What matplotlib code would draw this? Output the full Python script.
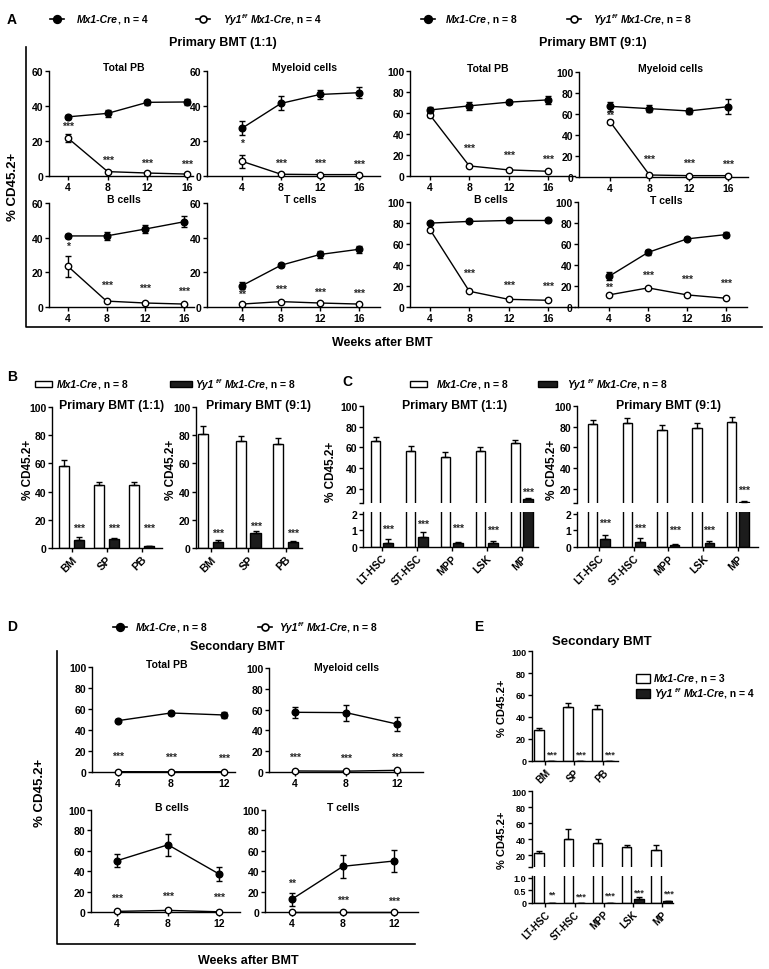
import numpy as np
import matplotlib
matplotlib.use('Agg')
import matplotlib.pyplot as plt
from matplotlib.lines import Line2D
from matplotlib.patches import Rectangle

plt.rcParams['font.family'] = ['Liberation Sans', 'DejaVu Sans']
plt.rcParams['font.weight'] = 'bold'
plt.rcParams['axes.linewidth'] = 1.0

# ===================== DATA =====================
weeks_primary = [4, 8, 12, 16]
weeks_secondary = [4, 8, 12]

# ---- Panel A, Primary BMT (1:1) ----
a1_total_ctrl = [33.8, 35.8, 42.1, 42.3]
a1_total_ctrl_err = [1.0, 2.1, 1.5, 1.7]
a1_total_ko = [21.6, 2.5, 1.7, 1.1]
a1_total_ko_err = [2.3, 0.4, 0.3, 0.3]
a1_total_sig = ['***', '***', '***', '***']

a1_mye_ctrl = [27.3, 41.5, 46.6, 47.6]
a1_mye_ctrl_err = [4.0, 4.0, 2.7, 3.0]
a1_mye_ko = [8.4, 1.0, 0.8, 0.8]
a1_mye_ko_err = [3.6, 0.3, 0.3, 0.3]
a1_mye_sig = ['*', '***', '***', '***']

a1_b_ctrl = [41.0, 41.0, 45.0, 49.2]
a1_b_ctrl_err = [1.0, 2.3, 2.3, 3.1]
a1_b_ko = [23.6, 3.4, 2.3, 1.7]
a1_b_ko_err = [6.1, 0.5, 0.4, 0.3]
a1_b_sig = ['*', '***', '***', '***']

a1_t_ctrl = [12.3, 24.1, 30.3, 33.3]
a1_t_ctrl_err = [2.1, 1.0, 1.9, 2.1]
a1_t_ko = [1.7, 3.1, 2.3, 1.7]
a1_t_ko_err = [0.4, 0.5, 0.4, 0.3]
a1_t_sig = ['**', '***', '***', '***']

# ---- Panel A, Primary BMT (9:1) ----
a9_total_ctrl = [62.9, 66.8, 70.3, 72.5]
a9_total_ctrl_err = [2.6, 3.5, 2.0, 3.9]
a9_total_ko = [58.1, 9.6, 5.8, 4.5]
a9_total_ko_err = [1.5, 1.0, 0.8, 0.8]
a9_total_sig = ['', '***', '***', '***']

a9_mye_ctrl = [67.3, 65.1, 62.9, 67.0]
a9_mye_ctrl_err = [4.1, 3.2, 3.1, 7.0]
a9_mye_ko = [52.7, 1.9, 1.3, 1.3]
a9_mye_ko_err = [1.5, 0.5, 0.4, 0.4]
a9_mye_sig = ['**', '***', '***', '***']

a9_b_ctrl = [79.9, 81.5, 82.4, 82.4]
a9_b_ctrl_err = [1.0, 1.0, 1.0, 1.0]
a9_b_ko = [73.8, 15.0, 7.3, 6.4]
a9_b_ko_err = [1.0, 1.0, 0.8, 0.8]
a9_b_sig = ['', '***', '***', '***']

a9_t_ctrl = [29.1, 52.0, 64.9, 69.0]
a9_t_ctrl_err = [3.8, 2.0, 1.5, 2.0]
a9_t_ko = [11.5, 18.2, 11.5, 8.3]
a9_t_ko_err = [1.0, 1.0, 1.0, 1.0]
a9_t_sig = ['**', '***', '***', '***']

# ---- Panel D, Secondary BMT ----
d_total_ctrl = [48.9, 56.2, 54.3]
d_total_ctrl_err = [1.2, 2.3, 2.6]
d_total_ko = [0.3, 0.2, 0.3]
d_total_ko_err = [0.1, 0.1, 0.1]
d_total_sig = ['***', '***', '***']

d_mye_ctrl = [57.4, 57.1, 46.1]
d_mye_ctrl_err = [5.5, 7.7, 6.5]
d_mye_ko = [1.0, 0.8, 1.6]
d_mye_ko_err = [0.3, 0.3, 0.5]
d_mye_sig = ['***', '***', '***']

d_b_ctrl = [50.3, 65.9, 37.3]
d_b_ctrl_err = [6.5, 11.0, 6.5]
d_b_ko = [0.6, 1.6, 0.2]
d_b_ko_err = [0.2, 0.5, 0.1]
d_b_sig = ['***', '***', '***']

d_t_ctrl = [12.6, 44.8, 50.0]
d_t_ctrl_err = [6.4, 11.3, 11.0]
d_t_ko = [0.1, 0.1, 0.1]
d_t_ko_err = [0.0, 0.0, 0.0]
d_t_sig = ['**', '***', '***']

# ---- Panel B ----
b_cats = ['BM', 'SP', 'PB']
b1_ctrl = [58.3, 44.8, 44.8]
b1_ctrl_err = [4.2, 1.9, 2.1]
b1_ko = [5.7, 6.4, 1.2]
b1_ko_err = [1.8, 0.7, 0.4]
b1_sig = ['***', '***', '***']
b9_ctrl = [81.1, 76.0, 74.0]
b9_ctrl_err = [5.4, 3.5, 4.3]
b9_ko = [4.5, 10.6, 4.0]
b9_ko_err = [0.9, 1.7, 0.7]
b9_sig = ['***', '***', '***']

# ---- Panel C ----
c_cats = ['LT-HSC', 'ST-HSC', 'MPP', 'LSK', 'MP']
c1_ctrl = [66.5, 56.5, 50.6, 56.5, 64.0]
c1_ctrl_err = [3.5, 4.5, 4.5, 3.5, 3.5]
c1_ko = [0.27, 0.62, 0.23, 0.27, 9.5]
c1_ko_err = [0.19, 0.28, 0.07, 0.08, 1.0]
c1_sig = ['***', '***', '***', '***', '***']
c9_ctrl = [82.8, 83.7, 76.9, 78.9, 84.4]
c9_ctrl_err = [3.9, 4.6, 4.9, 4.5, 4.9]
c9_ko = [0.48, 0.33, 0.15, 0.27, 7.0]
c9_ko_err = [0.25, 0.21, 0.04, 0.10, 1.0]
c9_sig = ['***', '***', '***', '***', '***']

# ---- Panel E ----
e_top_cats = ['BM', 'SP', 'PB']
e_top_ctrl = [27.8, 49.1, 46.9]
e_top_ctrl_err = [2.5, 3.9, 4.3]
e_top_ko = [0.2, 0.2, 0.2]
e_top_ko_err = [0.0, 0.0, 0.0]
e_top_sig = ['***', '***', '***']
e_bot_cats = ['LT-HSC', 'ST-HSC', 'MPP', 'LSK', 'MP']
e_bot_ctrl = [22.1, 39.9, 34.6, 30.4, 26.6]
e_bot_ctrl_err = [2.9, 12.5, 5.3, 2.4, 6.2]
e_bot_ko = [0.0, 0.0, 0.0, 0.16, 0.06]
e_bot_ko_err = [0.0, 0.0, 0.0, 0.06, 0.02]
e_bot_sig = ['**', '***', '***', '***', '***']

# ===================== LAYOUT (annotation heights in data units) =====================
a1_total_sig_y = [28.7, 9.2, 7.6, 7.1]
a1_mye_sig_y = [19.1, 7.6, 7.6, 7.1]
a1_b_sig_y = [35.0, 13.0, 10.9, 9.6]
a1_t_sig_y = [7.5, 10.2, 9.0, 8.2]
a9_total_sig_y = [0, 26.8, 20.4, 16.0]
a9_mye_sig_y = [59.0, 17.5, 13.7, 12.7]
a9_b_sig_y = [0, 32.3, 21.1, 20.1]
a9_t_sig_y = [19.5, 31.0, 27.2, 22.7]
d_total_sig_y = [15.3, 14.7, 13.1]
d_mye_sig_y = [14.2, 13.2, 14.8]
d_b_sig_y = [14.0, 16.2, 14.6]
d_t_sig_y = [28.7, 11.9, 11.0]
b1_sig_y = [14.0, 14.0, 14.0]
b9_sig_y = [11.0, 15.8, 10.6]
c1_sig_y = [1.1, 1.4, 1.17, 1.04, 17.0]
c9_sig_y = [1.46, 1.15, 1.0, 1.04, 19.0]
e_top_sig_y = [6.0, 6.0, 6.0]
e_bot_sig_y = [0.34, 0.28, 0.3, 0.44, 0.4]

STAR_FS = 7.6
STAR_COLOR = '#2a2a2a'

W, H = 769, 970
fig = plt.figure(figsize=(W / 100, H / 100), dpi=100)
fig.patch.set_facecolor('white')
R = fig.canvas.get_renderer()


def px_axes(x0, y0, x1, y1):
    return fig.add_axes([x0 / W, 1 - y1 / H, (x1 - x0) / W, (y1 - y0) / H])


def ftext(x, y, s, **kw):
    return fig.text(x / W, 1 - y / H, s, **kw)


def fline(xs, ys, **kw):
    fig.add_artist(Line2D([x / W for x in xs], [1 - y / H for y in ys],
                          transform=fig.transFigure, **kw))


def rich(x, y, parts, size):
    cx = x
    for s, italic, sup, gap in parts:
        cx += gap
        fs = size * 0.62 if sup else size
        yy = y - size * 0.45 if sup else y
        t = ftext(cx, yy, s, fontsize=fs, fontstyle='italic' if italic else 'normal',
                  va='center', ha='left', fontweight='bold')
        cx += t.get_window_extent(R).width


def style(ax, fs=7.5):
    for s in ['top', 'right']:
        ax.spines[s].set_visible(False)
    ax.tick_params(direction='out', length=3, width=1, labelsize=fs, pad=1.2)


def stars(ax, x, y, s, fs=STAR_FS):
    if s:
        ax.text(x, y, s, ha='center', va='center', fontsize=fs,
                fontweight='bold', color=STAR_COLOR)


def line_panel(box, xlim, ymax, x, ctrl, ctrl_err, ko, ko_err, sig, sig_y, fs=7.5):
    ax = px_axes(*box)
    ax.errorbar(x, ctrl, yerr=ctrl_err, fmt='none', ecolor='k', elinewidth=1,
                capsize=2, capthick=1, zorder=3)
    ax.errorbar(x, ko, yerr=ko_err, fmt='none', ecolor='k', elinewidth=1,
                capsize=2, capthick=1, zorder=3)
    ax.plot(x, ko, '-o', color='k', lw=1, ms=4.6, mfc='white', mec='k', mew=1,
            clip_on=False, zorder=4)
    ax.plot(x, ctrl, '-o', color='k', lw=1, ms=4.8, mfc='k', mec='k',
            clip_on=False, zorder=5)
    for xi, s, yi in zip(x, sig, sig_y):
        stars(ax, xi, yi, s)
    ax.set_xlim(*xlim)
    ax.set_ylim(0, ymax)
    ax.set_xticks(x)
    ax.set_yticks(np.arange(0, ymax + 1, 20))
    style(ax, fs)
    return ax


def draw_bars(ax, ctrl, ctrl_err, ko, ko_err, off, w):
    n = len(ctrl)
    x = np.arange(n)
    ax.bar(x - off, ctrl, w, color='white', edgecolor='k', linewidth=1, zorder=2)
    ax.bar(x + off, ko, w, color='#1c1c1c', edgecolor='k', linewidth=1, zorder=2)
    ax.errorbar(x - off, ctrl, yerr=[np.zeros(n), ctrl_err], fmt='none', ecolor='k',
                elinewidth=1, capsize=2.2, capthick=1, zorder=3)
    ax.errorbar(x + off, ko, yerr=[np.zeros(n), ko_err], fmt='none', ecolor='k',
                elinewidth=1, capsize=2.2, capthick=1, zorder=3)
    return x


def bar_labels(ax, x, cats, fs):
    ax.set_xticks(x)
    ax.set_xticklabels(cats, rotation=45, ha='right', rotation_mode='anchor',
                       fontsize=fs, fontweight='bold')


def bar_panel(box, xlim, cats, ctrl, ctrl_err, ko, ko_err, sig, sig_y, off, w,
              fs=7.5, xfs=8, sfs=STAR_FS):
    ax = px_axes(*box)
    x = draw_bars(ax, ctrl, ctrl_err, ko, ko_err, off, w)
    for xi, s, yi in zip(x, sig, sig_y):
        stars(ax, xi + off, yi, s, sfs)
    ax.set_xlim(*xlim)
    ax.set_ylim(0, 100)
    ax.set_yticks(np.arange(0, 101, 20))
    style(ax, fs)
    bar_labels(ax, x, cats, xfs)
    return ax


def broken_panel(box_up, box_lo, xlim, up_lo, lo_top, lo_ticks, lo_labels, cats,
                 ctrl, ctrl_err, ko, ko_err, sig, sig_y, off, w, fs=7.5, xfs=7.5, sfs=STAR_FS):
    axu = px_axes(*box_up)
    axl = px_axes(*box_lo)
    for ax in (axu, axl):
        x = draw_bars(ax, ctrl, ctrl_err, ko, ko_err, off, w)
        ax.set_xlim(*xlim)
        style(ax, fs)
    for xi, s, yi in zip(x, sig, sig_y):
        ax_t = axl if yi <= lo_top else axu
        stars(ax_t, xi + off, yi, s, sfs)
    axu.spines['bottom'].set_visible(False)
    axu.set_xticks([])
    axu.set_ylim(up_lo, 100)
    axu.set_yticks([up_lo, 20, 40, 60, 80, 100])
    axu.set_yticklabels(['', '20', '40', '60', '80', '100'])
    axl.set_ylim(0, lo_top)
    axl.set_yticks(lo_ticks)
    axl.set_yticklabels(lo_labels)
    bar_labels(axl, x, cats, xfs)
    return axu, axl


def line_legend(x_mark, y, x_text, filled, parts, size=7.5):
    xs = [x_mark - 7, x_mark, x_mark + 7]
    fig.add_artist(Line2D([v / W for v in xs], [1 - y / H] * 3, transform=fig.transFigure,
                          color='k', lw=1.2, marker='o', markevery=[1], ms=5.5 if filled else 5,
                          mfc='k' if filled else 'white', mec='k', mew=1.2))
    rich(x_text, y, parts, size)


def box_legend(x0, y, x_text, filled, w, parts, size=7.5, h=6):
    fig.add_artist(Rectangle((x0 / W, 1 - (y + h / 2) / H), w / W, h / H,
                             transform=fig.transFigure, fc='#1c1c1c' if filled else 'white',
                             ec='k', lw=1))
    rich(x_text, y, parts, size)


ctrl_parts = lambda n: [('Mx1-Cre', True, False, 0), (', n = %d' % n, False, False, 0)]
ko_parts_sup = lambda n: [('Yy1', True, False, 0), ('f/f', True, True, 0.5),
                          ('Mx1-Cre', True, False, 2.5), (', n = %d' % n, False, False, 0)]
ko_parts_sp = lambda n: [('Yy1', True, False, 0), ('f/f', True, True, 2.5),
                         ('Mx1-Cre', True, False, 2.5), (', n = %d' % n, False, False, 0)]

# ===================== PANEL A =====================
ftext(7, 20, 'A', fontsize=10, va='center', ha='left')
line_legend(57, 20, 77, True, ctrl_parts(4))
line_legend(203, 20, 223, False, ko_parts_sup(4))
line_legend(428, 20, 446, True, ctrl_parts(8))
line_legend(574, 20, 593, False, ko_parts_sup(8))
ftext(223, 43, 'Primary BMT (1:1)', fontsize=9, ha='center', va='center')
ftext(593, 43, 'Primary BMT (9:1)', fontsize=9, ha='center', va='center')

line_panel((49, 72, 193, 177), (2.08, 16.6), 60, weeks_primary, a1_total_ctrl,
           a1_total_ctrl_err, a1_total_ko, a1_total_ko_err, a1_total_sig, a1_total_sig_y)
line_panel((207, 72, 380, 177), (0.41, 18.15), 60, weeks_primary, a1_mye_ctrl,
           a1_mye_ctrl_err, a1_mye_ko, a1_mye_ko_err, a1_mye_sig, a1_mye_sig_y)
line_panel((49, 204, 194, 308), (2.08, 17.0), 60, weeks_primary, a1_b_ctrl,
           a1_b_ctrl_err, a1_b_ko, a1_b_ko_err, a1_b_sig, a1_b_sig_y)
line_panel((207, 204, 380, 308), (0.41, 18.15), 60, weeks_primary, a1_t_ctrl,
           a1_t_ctrl_err, a1_t_ko, a1_t_ko_err, a1_t_sig, a1_t_sig_y)
line_panel((410, 72, 575, 177), (1.97, 18.75), 100, weeks_primary, a9_total_ctrl,
           a9_total_ctrl_err, a9_total_ko, a9_total_ko_err, a9_total_sig, a9_total_sig_y)
line_panel((579, 73, 748, 178), (0.85, 18.0), 100, weeks_primary, a9_mye_ctrl,
           a9_mye_ctrl_err, a9_mye_ko, a9_mye_ko_err, a9_mye_sig, a9_mye_sig_y)
line_panel((410, 203, 575, 308), (1.97, 18.75), 100, weeks_primary, a9_b_ctrl,
           a9_b_ctrl_err, a9_b_ko, a9_b_ko_err, a9_b_sig, a9_b_sig_y)
line_panel((578, 203, 747, 308), (0.85, 18.1), 100, weeks_primary, a9_t_ctrl,
           a9_t_ctrl_err, a9_t_ko, a9_t_ko_err, a9_t_sig, a9_t_sig_y)

for (tx, ty, s) in [(124, 68, 'Total PB'), (304, 68, 'Myeloid cells'), (124, 200, 'B cells'),
                    (300, 200, 'T cells'), (488, 69, 'Total PB'), (671, 69, 'Myeloid cells'),
                    (491, 200, 'B cells'), (666, 201, 'T cells')]:
    ftext(tx, ty, s, fontsize=7.5, ha='center', va='center')

fline([26, 26, 762], [48, 328, 328], color='k', lw=1.2)
ftext(382, 343, 'Weeks after BMT', fontsize=9, ha='center', va='center')
ftext(13, 187, '% CD45.2+', fontsize=9.5, ha='center', va='center', rotation=90)

# ===================== PANEL B =====================
ftext(7, 377, 'B', fontsize=10, va='center', ha='left')
box_legend(35, 385, 57, False, 17, ctrl_parts(8))
box_legend(170, 385, 195, True, 22, ko_parts_sp(8))
bar_panel((52, 408, 162, 549), (-0.56, 2.58), b_cats, b1_ctrl, b1_ctrl_err, b1_ko,
          b1_ko_err, b1_sig, b1_sig_y, 0.22, 0.29)
bar_panel((196, 408, 302, 549), (-0.39, 2.44), b_cats, b9_ctrl, b9_ctrl_err, b9_ko,
          b9_ko_err, b9_sig, b9_sig_y, 0.2, 0.27)
ftext(112, 406, 'Primary BMT (1:1)', fontsize=8.8, ha='center', va='center')
ftext(258, 406, 'Primary BMT (9:1)', fontsize=8.8, ha='center', va='center')
ftext(28, 470, '% CD45.2+', fontsize=8.5, ha='center', va='center', rotation=90)
ftext(171, 470, '% CD45.2+', fontsize=8.5, ha='center', va='center', rotation=90)

# ===================== PANEL C =====================
ftext(342, 382, 'C', fontsize=10, va='center', ha='left')
box_legend(410, 385, 437, False, 17, ctrl_parts(8))
box_legend(538, 385, 567, True, 19, ko_parts_sp(8))
broken_panel((363, 407, 538, 504), (363, 513, 538, 548), (-0.54, 4.47), 6, 2.1,
             [0, 1, 2], ['0', '1', '2'], c_cats, c1_ctrl, c1_ctrl_err, c1_ko, c1_ko_err,
             c1_sig, c1_sig_y, 0.18, 0.27)
broken_panel((577, 407, 758, 504), (577, 513, 758, 548), (-0.63, 4.58), 6, 2.1,
             [0, 1, 2], ['0', '1', '2'], c_cats, c9_ctrl, c9_ctrl_err, c9_ko, c9_ko_err,
             c9_sig, c9_sig_y, 0.18, 0.27)
ftext(455, 406, 'Primary BMT (1:1)', fontsize=8.8, ha='center', va='center')
ftext(668, 406, 'Primary BMT (9:1)', fontsize=8.8, ha='center', va='center')
ftext(331, 472, '% CD45.2+', fontsize=8.5, ha='center', va='center', rotation=90)
ftext(552, 470, '% CD45.2+', fontsize=8.5, ha='center', va='center', rotation=90)

# ===================== PANEL D =====================
ftext(7, 627, 'D', fontsize=10, va='center', ha='left')
line_legend(120, 628, 136, True, ctrl_parts(8))
line_legend(265, 628, 279, False, ko_parts_sup(8))
ftext(237, 647, 'Secondary BMT', fontsize=9, ha='center', va='center')
line_panel((92, 668, 235, 773), (2.04, 12.83), 100, weeks_secondary, d_total_ctrl,
           d_total_ctrl_err, d_total_ko, d_total_ko_err, d_total_sig, d_total_sig_y)
line_panel((269, 669, 423, 773), (1.96, 14.04), 100, weeks_secondary, d_mye_ctrl,
           d_mye_ctrl_err, d_mye_ko, d_mye_ko_err, d_mye_sig, d_mye_sig_y)
line_panel((91, 811, 240, 913), (1.96, 13.65), 100, weeks_secondary, d_b_ctrl,
           d_b_ctrl_err, d_b_ko, d_b_ko_err, d_b_sig, d_b_sig_y)
line_panel((265, 811, 418, 913), (1.88, 13.88), 100, weeks_secondary, d_t_ctrl,
           d_t_ctrl_err, d_t_ko, d_t_ko_err, d_t_sig, d_t_sig_y)
for (tx, ty, s) in [(167, 665, 'Total PB'), (347, 668, 'Myeloid cells'),
                    (172, 808, 'B cells'), (343, 808, 'T cells')]:
    ftext(tx, ty, s, fontsize=7.5, ha='center', va='center')
fline([57, 57, 415], [652, 945, 945], color='k', lw=1.2)
ftext(248, 961, 'Weeks after BMT', fontsize=9, ha='center', va='center')
ftext(40, 793, '% CD45.2+', fontsize=9.5, ha='center', va='center', rotation=90)

# ===================== PANEL E =====================
ftext(474, 627, 'E', fontsize=10, va='center', ha='left')
ftext(602, 642, 'Secondary BMT', fontsize=9.5, ha='center', va='center')
bar_panel((532, 652, 618, 762), (-0.46, 2.52), e_top_cats, e_top_ctrl, e_top_ctrl_err,
          e_top_ko, e_top_ko_err, e_top_sig, e_top_sig_y, 0.21, 0.34, fs=6.5, xfs=7, sfs=6.8)
broken_panel((532, 792, 673, 868), (532, 877, 673, 904), (-0.46, 4.38), 5, 1.06,
             [0, 0.5, 1.0], ['0', '0.5', '1.0'], e_bot_cats, e_bot_ctrl, e_bot_ctrl_err,
             e_bot_ko, e_bot_ko_err, e_bot_sig, e_bot_sig_y, 0.21, 0.33, fs=6.5, xfs=7, sfs=6.8)
ftext(502, 708, '% CD45.2+', fontsize=8, ha='center', va='center', rotation=90)
ftext(502, 840, '% CD45.2+', fontsize=8, ha='center', va='center', rotation=90)
box_legend(636, 679, 654, False, 14, ctrl_parts(3), h=9)
box_legend(636, 694, 654, True, 14, ko_parts_sp(4), h=9)

fig.savefig('out.png', dpi=100, facecolor='white')
